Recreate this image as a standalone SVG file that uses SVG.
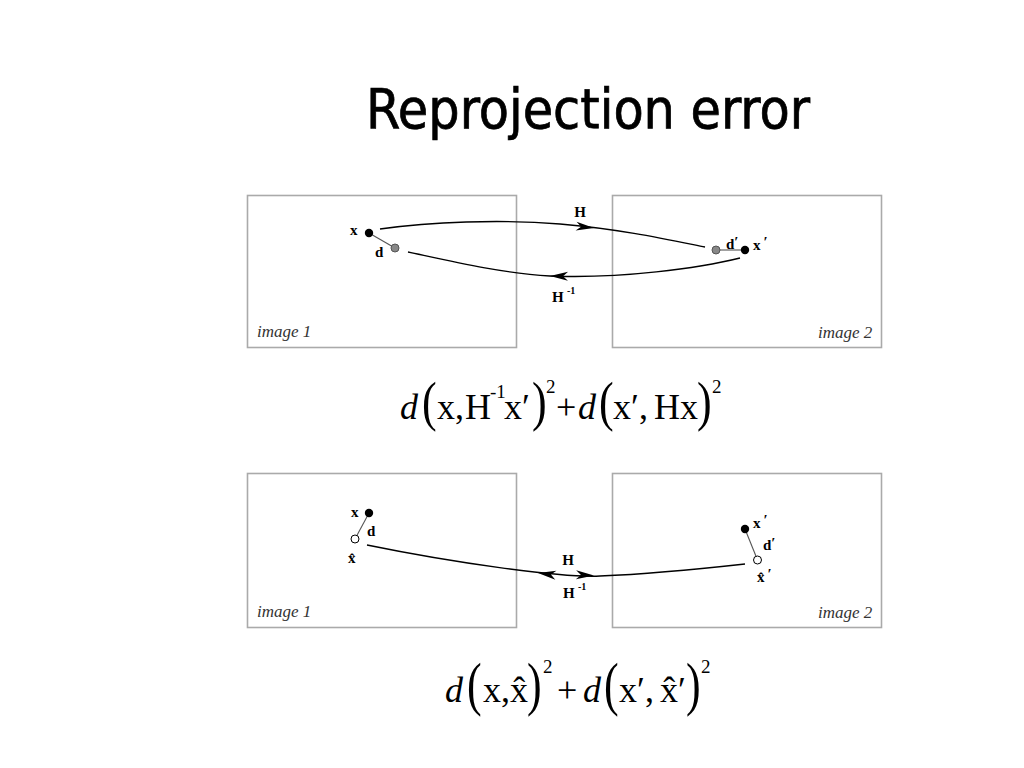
<svg xmlns="http://www.w3.org/2000/svg" xmlns:xlink="http://www.w3.org/1999/xlink" width="1024" height="768" viewBox="0 0 1024 768">
<style>
.title{font-family:"DejaVu Sans Condensed","DejaVu Sans",sans-serif;font-size:55px;fill:#000;stroke:#000;stroke-width:0.7}
.box{fill:#fff;stroke:#aaa;stroke-width:1.6}
.img{font-family:"Liberation Serif",serif;font-style:italic;font-size:17px;fill:#333}
.lb{font-family:"Liberation Serif",serif;font-weight:bold;font-size:15px;fill:#000}
.sup{font-family:"Liberation Serif",serif;font-weight:bold;font-size:10px;fill:#000}
.pr{font-family:"Liberation Serif",serif;font-size:15px;fill:#000}
.curve{fill:none;stroke:#000;stroke-width:1.4}
.seg{stroke:#555;stroke-width:1.1}
.blk{fill:#000}
.gry{fill:#888;stroke:#555;stroke-width:1}
.hol{fill:#fff;stroke:#000;stroke-width:1}
.eq{font-family:"Liberation Serif",serif;font-size:36px;fill:#000}
.eqi{font-family:"Liberation Serif",serif;font-size:36px;font-style:italic;fill:#000}
.eqs{font-family:"Liberation Serif",serif;font-size:19px;fill:#000}
.par{font-family:"Liberation Serif",serif;font-size:44px;fill:#000}
</style>
<defs>
<path id="ah" d="M0,0 L-18,-4.5 L-13,0 L-18,4.5 Z" fill="#000"/>
</defs>
<rect width="1024" height="768" fill="#fff"/>
<text class="title" x="366" y="128" textLength="444" lengthAdjust="spacingAndGlyphs">Reprojection error</text>

<!-- top panel -->
<g id="top-image1">
<rect class="box" x="247.5" y="195.5" width="269" height="152"/>
<text class="img" x="257" y="337">image 1</text>
</g>
<g id="top-image2">
<rect class="box" x="612.5" y="195.5" width="269" height="152"/>
<text class="img" x="818" y="338">image 2</text>
</g>
<g id="top-connectors">
<path class="curve" d="M380,229 C430,222 500,219 560,224 C620,229 670,240 705,247"/>
<path class="curve" d="M408,252 C450,261 500,273 550,276 C620,279 700,268 740,258"/>
<use xlink:href="#ah" transform="translate(594,228) rotate(6)"/>
<use xlink:href="#ah" transform="translate(550,276) rotate(181)"/>
<line class="seg" x1="369" y1="233" x2="395" y2="248"/>
<line class="seg" x1="716" y1="250" x2="745" y2="250"/>
</g>
<g id="top-x">
<circle class="blk" cx="369" cy="233" r="4.2"/>
<text class="lb" x="350" y="235">x</text>
</g>
<g id="top-d">
<circle class="gry" cx="395" cy="248" r="4"/>
<text class="lb" x="375" y="257">d</text>
</g>
<g id="top-dprime">
<circle class="gry" cx="716" cy="250" r="4"/>
<text class="lb" x="726" y="249">d<tspan class="pr" dy="-2">′</tspan></text>
</g>
<g id="top-xprime">
<circle class="blk" cx="745" cy="250" r="4.2"/>
<text class="lb" x="753" y="250">x<tspan class="pr" dx="3" dy="-3">′</tspan></text>
</g>
<g id="top-H">
<text class="lb" x="580" y="217" text-anchor="middle">H</text>
</g>
<g id="top-Hinv">
<text class="lb" x="552" y="302">H</text>
<text class="sup" x="567" y="294">-1</text>
</g>

<!-- equation 1 -->
<g id="eq1">
<text class="eqi" x="400" y="419">d</text>
<text class="par" transform="translate(422,420) scale(1,1.25)">(</text>
<text class="eq" x="437" y="419">x,</text>
<text class="eq" x="465" y="419">H</text>
<text class="eqs" x="490" y="398">-1</text>
<text class="eq" x="504" y="419">x′</text>
<text class="par" transform="translate(532,420) scale(1,1.25)">)</text>
<text class="eqs" x="546" y="393">2</text>
<text class="eq" x="556" y="419">+</text>
<text class="eqi" x="578" y="419">d</text>
<text class="par" transform="translate(599,420) scale(1,1.25)">(</text>
<text class="eq" x="613" y="419">x′,</text>
<text class="eq" x="654" y="419">Hx</text>
<text class="par" transform="translate(697,420) scale(1,1.25)">)</text>
<text class="eqs" x="712" y="393">2</text>
</g>

<!-- bottom panel -->
<g id="bot-image1">
<rect class="box" x="247.5" y="473.5" width="269" height="154"/>
<text class="img" x="257" y="617">image 1</text>
</g>
<g id="bot-image2">
<rect class="box" x="612.5" y="473.5" width="269" height="154"/>
<text class="img" x="818" y="618">image 2</text>
</g>
<g id="bot-connectors">
<path class="curve" d="M367,545 C450,562 560,578 600,576 C650,574 700,569 745,564"/>
<use xlink:href="#ah" transform="translate(538,573) rotate(187)"/>
<use xlink:href="#ah" transform="translate(594,575.5) rotate(2)"/>
<line class="seg" x1="369" y1="513" x2="355" y2="539"/>
<line class="seg" x1="745" y1="529" x2="757.5" y2="560"/>
</g>
<g id="bot-x">
<circle class="blk" cx="369" cy="513" r="4.2"/>
<text class="lb" x="351" y="517">x</text>
</g>
<g id="bot-d">
<text class="lb" x="367" y="536">d</text>
</g>
<g id="bot-xhat">
<circle class="hol" cx="355" cy="539" r="4"/>
<text class="lb" x="348" y="563">x̂</text>
</g>
<g id="bot-xprime">
<circle class="blk" cx="745" cy="529" r="4.2"/>
<text class="lb" x="753" y="528">x<tspan class="pr" dx="3" dy="-3">′</tspan></text>
</g>
<g id="bot-dprime">
<text class="lb" x="763" y="550">d<tspan class="pr" dy="-2">′</tspan></text>
</g>
<g id="bot-xhatprime">
<circle class="hol" cx="757.5" cy="560" r="4"/>
<text class="lb" x="757" y="582">x̂<tspan class="pr" dx="3" dy="-3">′</tspan></text>
</g>
<g id="bot-H">
<text class="lb" x="568" y="565" text-anchor="middle">H</text>
</g>
<g id="bot-Hinv">
<text class="lb" x="563" y="598">H</text>
<text class="sup" x="578" y="590">-1</text>
</g>

<!-- equation 2 -->
<g id="eq2">
<text class="eqi" x="445" y="702">d</text>
<text class="par" transform="translate(467,704) scale(1,1.33)">(</text>
<text class="eq" x="483" y="702">x,</text>
<text class="eq" x="510" y="702">x̂</text>
<text class="par" transform="translate(527,704) scale(1,1.33)">)</text>
<text class="eqs" x="543" y="673">2</text>
<text class="eq" x="557" y="702">+</text>
<text class="eqi" x="583" y="702">d</text>
<text class="par" transform="translate(604,704) scale(1,1.33)">(</text>
<text class="eq" x="619" y="702">x′,</text>
<text class="eq" x="660" y="702">x̂′</text>
<text class="par" transform="translate(686,704) scale(1,1.33)">)</text>
<text class="eqs" x="701" y="673">2</text>
</g>
</svg>
